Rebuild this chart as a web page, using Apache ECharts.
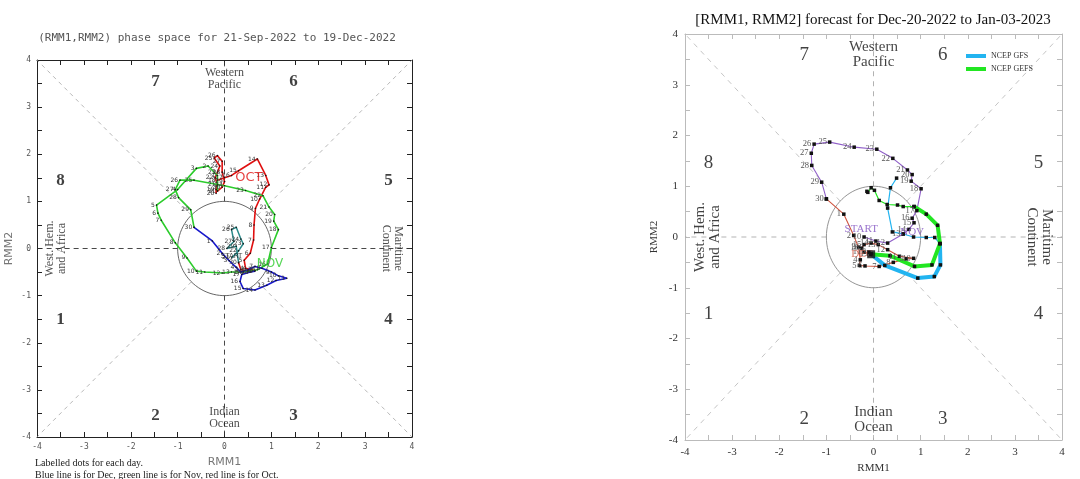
<!DOCTYPE html>
<html>
<head>
<meta charset="utf-8">
<script src="https://cdn.jsdelivr.net/npm/echarts@6/dist/echarts.min.js"></script>
<style>
html, body { margin: 0; padding: 0; background: #fff; }
#main { width: 1080px; height: 479px; }
</style>
</head>
<body>
<div id="main"></div>
<script>
// left panel: observed [RMM1, RMM2] per day
var leftSepStart = 21;
var leftSep = [[0.15,-0.2],[0.3,-0.05],[0.4,0.1],[0.35,0.2],[0.25,0.45],[0.15,0.4],[0.2,0.15],[0.05,0.0],[0.25,0.05],[0.3,-0.3]];
var leftOct = [[0.35,-0.45],[0.5,-0.48],[0.65,-0.47],[0.45,-0.42],[0.42,-0.25],[0.55,-0.1],[0.62,0.18],[0.63,0.5],[0.66,0.85],[0.75,1.05],
  [0.88,1.3],[0.95,1.35],[0.88,1.55],[0.7,1.9],[0.3,1.65],[0.15,1.55],[0.0,1.5],[-0.15,1.45],[-0.18,1.25],[-0.18,1.17],
  [-0.15,1.35],[-0.2,1.5],[-0.15,1.62],[-0.1,1.75],[-0.22,1.92],[-0.15,1.97],[-0.05,1.85],[-0.05,1.62],[0.0,1.42],[-0.05,1.3],[-0.15,1.22]];
var leftNov = [[-0.15,1.55],[-0.35,1.75],[-0.6,1.7],[-1.0,1.25],[-1.45,0.92],[-1.42,0.75],[-1.35,0.6],[-1.05,0.12],[-0.8,-0.2],[-0.6,-0.48],
  [-0.42,-0.5],[-0.05,-0.52],[0.15,-0.5],[0.4,-0.5],[0.7,-0.45],[0.92,-0.33],[1.0,0.02],[1.15,0.4],[1.05,0.58],[1.07,0.72],
  [0.95,0.88],[0.82,1.12],[0.45,1.23],[0.0,1.33],[-0.65,1.45],[-0.95,1.45],[-1.05,1.25],[-0.98,1.08],[-0.72,0.82],[-0.65,0.45]];
var leftDec = [[-0.26,0.16],[-0.05,-0.1],[0.1,-0.26],[0.25,-0.4],[0.35,-0.5],[0.5,-0.45],[0.65,-0.38],[0.8,-0.42],[1.0,-0.5],[1.15,-0.58],
  [1.33,-0.63],[1.1,-0.68],[0.9,-0.78],[0.65,-0.88],[0.4,-0.85],[0.33,-0.7],[0.37,-0.55],[0.55,-0.5],[0.65,-0.48]];

// right panel: last 40 observed days, then two 15-day forecasts
var rightNovStart = 10;
var rightNov = [[-0.2,0.0],[0.05,-0.08],[0.3,-0.12],[0.63,0.06],[0.75,0.15],[0.86,0.28],[0.82,0.37],[0.92,0.52],[1.01,0.95],[0.8,1.1],
  [0.82,1.23],[0.72,1.32],[0.41,1.55],[0.07,1.73],[-0.41,1.77],[-0.93,1.87],[-1.26,1.83],[-1.32,1.65],[-1.31,1.41],[-1.1,1.08],[-1.0,0.75]];
var rightDec = [[-0.63,0.45],[-0.42,0.03],[-0.32,-0.2],[-0.28,-0.45],[-0.3,-0.56],[-0.18,-0.57],[0.12,-0.58],[0.42,-0.5],[0.7,-0.43],[0.85,-0.42],
  [0.55,-0.38],[0.3,-0.25],[0.1,-0.15],[-0.05,-0.12],[-0.2,-0.15],[-0.25,-0.22],[-0.2,-0.3],[-0.1,-0.3],[-0.05,-0.34]];
var gfs = [[0.24,-0.56],[0.94,-0.81],[1.29,-0.78],[1.42,-0.55],[1.41,-0.13],[1.3,-0.01],[1.12,-0.01],[0.85,0.0],[0.63,0.06],[0.4,0.1],
  [0.3,0.57],[0.36,0.97],[0.49,1.16]];
var gefs = [[0.35,-0.37],[0.87,-0.58],[1.24,-0.55],[1.41,-0.13],[1.36,0.23],[1.12,0.45],[0.86,0.6],[0.63,0.6],[0.51,0.63],[0.29,0.64],
  [0.12,0.72],[0.02,0.92],[-0.05,0.97],[-0.12,0.88],[-0.14,0.9]];
var gfsThick = 5, gefsThick = 7;

var phaseLabels = [[-1.47,3.55,'7'],[1.47,3.55,'6'],[-3.5,1.45,'8'],[3.5,1.45,'5'],[-3.5,-1.5,'1'],[3.5,-1.5,'4'],[-1.47,-3.55,'2'],[1.47,-3.55,'3']];
var tickValues = ['-4','-3','-2','-1','0','1','2','3','4'];

var chart = echarts.init(document.getElementById('main'));

// axis index per panel: left uses xAxis/yAxis 0, right uses 2
var L = 0, R = 2;

function track(pts, firstDay, prev, color, width, ai, lab, sym) {
  var data = [];
  if (prev) data.push({ value: prev, day: '' });
  pts.forEach(function (p, i) { data.push({ value: p, day: firstDay ? String(firstDay + i) : '' }); });
  return {
    type: 'line', xAxisIndex: ai, yAxisIndex: ai, data: data, silent: true,
    symbol: sym.symbol, symbolSize: sym.size, showSymbol: true,
    itemStyle: { color: sym.color },
    lineStyle: { color: color, width: width },
    label: {
      show: !!lab, position: 'left', distance: 1,
      fontSize: lab ? lab.size : 6, fontFamily: lab ? lab.font : 'sans-serif', color: lab ? lab.color : '#000',
      formatter: function (p) { return p.data.day; }
    },
    z: 5
  };
}

function ring(ai, color) {
  var d = [];
  for (var a = 0; a <= 360; a += 4) d.push([Math.cos(a * Math.PI / 180), Math.sin(a * Math.PI / 180)]);
  return { type: 'line', xAxisIndex: ai, yAxisIndex: ai, data: d, showSymbol: false, silent: true,
    lineStyle: { color: color, width: 0.9 }, z: 2 };
}

function spokes(ai, axisColor, diagColor, axisDash, diagDash) {
  var out = [];
  for (var k = 0; k < 8; k++) {
    var a = k * Math.PI / 4, c = Math.round(Math.cos(a) * 1e6) / 1e6, s = Math.round(Math.sin(a) * 1e6) / 1e6;
    var diag = k % 2 === 1;
    var far = diag ? 4 / Math.max(Math.abs(c), Math.abs(s)) : 4;
    out.push({ type: 'line', xAxisIndex: ai, yAxisIndex: ai, showSymbol: false, silent: true,
      data: [[c, s], [c * far, s * far]],
      lineStyle: { color: diag ? diagColor : axisColor, width: diag ? 0.7 : 0.9, type: diag ? diagDash : axisDash }, z: 1 });
  }
  return out;
}

function texts(ai, items, font, size, weight, color, rotate) {
  return { type: 'scatter', xAxisIndex: ai, yAxisIndex: ai, silent: true, symbolSize: 0,
    data: items.map(function (t) { return { value: [t[0], t[1]], txt: t[2] }; }),
    label: { show: true, position: 'inside', fontFamily: font, fontSize: size, fontWeight: weight, color: color,
      rotate: rotate || 0, lineHeight: size * 1.0, align: 'center', verticalAlign: 'middle',
      formatter: function (p) { return p.data.txt; } }, z: 6 };
}

function axis(kind, grid, pos, main, st) {
  var line = { color: st.frame, width: 1 };
  var o = {
    type: 'value', gridIndex: grid, position: pos, min: -4, max: 4, interval: 1,
    axisLine: { show: true, onZero: false, lineStyle: line },
    axisTick: { show: true, inside: true, length: 5, lineStyle: { color: st.frame, width: 1 } },
    minorTick: { show: true, splitNumber: 2, length: 5, lineStyle: { color: st.frame, width: 1 } },
    splitLine: { show: false },
    axisLabel: { show: main, fontFamily: st.font, fontSize: st.size, color: st.color, margin: st.margin,
      formatter: function (v) { return tickValues[Math.round(v) + 4]; } }
  };
  if (main) {
    o.name = kind === 'x' ? 'RMM1' : 'RMM2';
    o.nameLocation = 'middle';
    o.nameGap = kind === 'x' ? st.xGap : st.yGap;
    o.nameTextStyle = { fontFamily: st.nameFont, fontSize: st.nameSize, color: st.nameColor };
  }
  return o;
}

var ls = { frame: '#222', font: 'DejaVu Sans Mono', size: 8, color: '#555', margin: 6, xGap: 20, yGap: 22,
  nameFont: 'DejaVu Sans', nameSize: 11, nameColor: '#777' };
var rs = { frame: '#bbb', font: 'Liberation Serif', size: 11, color: '#333', margin: 7, xGap: 23, yGap: 25,
  nameFont: 'Liberation Serif', nameSize: 11, nameColor: '#333' };

var leftDot = { symbol: 'circle', size: 1.6, color: '#111' };
var rightDot = { symbol: 'rect', size: 3.5, color: '#111' };
var leftLab = { size: 6, font: 'DejaVu Sans', color: '#333' };
var rightLab = { size: 8.5, font: 'Liberation Serif', color: '#555' };

var series = [];
// left panel
series = series.concat(spokes(L, '#333', '#999', [5, 4], [4, 4]));
series.push(ring(L, '#555'));
series.push(track(leftSep, leftSepStart, null, '#2a8a8a', 1.5, L, leftLab, leftDot));
series.push(track(leftOct, 1, leftSep[leftSep.length - 1], '#e01010', 1.6, L, leftLab, leftDot));
series.push(track(leftNov, 1, leftOct[leftOct.length - 1], '#2ccc2c', 1.6, L, leftLab, leftDot));
series.push(track(leftDec, 1, leftNov[leftNov.length - 1], '#1818cc', 1.6, L, leftLab, leftDot));
series.push(texts(L, phaseLabels, 'Liberation Serif', 17, 'bold', '#111'));
series.push(texts(L, [[0, 3.6, 'Western\nPacific'], [0, -3.6, 'Indian\nOcean']], 'Liberation Serif', 12, 'normal', '#222'));
series.push(texts(L, [[-3.6, 0, 'West. Hem.\nand Africa']], 'Liberation Serif', 12, 'normal', '#222', 90));
series.push(texts(L, [[3.58, 0, 'Maritime\nContinent']], 'Liberation Serif', 12, 'normal', '#222', -90));
series.push(texts(L, [[0.15, -0.17, 'START']], 'DejaVu Sans', 7, 'normal', '#111'));
series.push(texts(L, [[0.52, 1.51, 'OCT']], 'DejaVu Sans', 13, 'normal', '#e01010'));
series.push(texts(L, [[0.97, -0.33, 'NOV']], 'DejaVu Sans', 12, 'normal', '#2ccc2c'));

// right panel
series = series.concat(spokes(R, '#aaa', '#aaa', [5, 5], [5, 5]));
series.push(ring(R, '#888'));
series.push(track(rightNov, rightNovStart, null, '#9060c8', 1.1, R, rightLab, rightDot));
series.push(track(rightDec, 1, rightNov[rightNov.length - 1], '#d05540', 1.1, R, rightLab, rightDot));
var fcStart = rightDec[rightDec.length - 1];
var gfsA = track(gfs.slice(0, gfsThick), 0, fcStart, '#22b4f0', 4, R, null, rightDot); gfsA.name = 'NCEP GFS';
var gfsB = track(gfs.slice(gfsThick), 0, gfs[gfsThick - 1], '#22b4f0', 1.2, R, null, rightDot); gfsB.name = 'NCEP GFS';
var gefsA = track(gefs.slice(0, gefsThick), 0, fcStart, '#22e622', 4, R, null, rightDot); gefsA.name = 'NCEP GEFS';
var gefsB = track(gefs.slice(gefsThick), 0, gefs[gefsThick - 1], '#22e622', 1.2, R, null, rightDot); gefsB.name = 'NCEP GEFS';
series.push(gfsA, gfsB, gefsA, gefsB);
series.push({ type: 'scatter', xAxisIndex: R, yAxisIndex: R, data: [fcStart], symbol: 'rect', symbolSize: 8,
  itemStyle: { color: '#111' }, silent: true, z: 7 });
series.push(texts(R, phaseLabels.map(function (p) { return [p[0], p[1] * 1.01, p[2]]; }), 'Liberation Serif', 19, 'normal', '#111'));
series.push(texts(R, [[0, 3.6, 'Western\nPacific'], [0, -3.6, 'Indian\nOcean']], 'Liberation Serif', 15, 'normal', '#111'));
series.push(texts(R, [[-3.52, 0, 'West. Hem.\nand Africa']], 'Liberation Serif', 15, 'normal', '#111', 90));
series.push(texts(R, [[3.52, 0, 'Maritime\nContinent']], 'Liberation Serif', 15, 'normal', '#111', -90));
series.push(texts(R, [[-0.26, 0.15, 'START'], [0.82, 0.1, 'NOV']], 'Liberation Serif', 11, 'normal', '#8050c0'));
series.push(texts(R, [[-0.24, -0.33, 'DEC']], 'Liberation Serif', 11, 'normal', '#d05540'));

chart.setOption({
  animation: false,
  backgroundColor: '#fff',
  grid: [
    { left: 37, top: 60, width: 375, height: 377 },
    { left: 685, top: 34, width: 377, height: 409 }
  ],
  xAxis: [axis('x', 0, 'bottom', true, ls), axis('x', 0, 'top', false, ls),
          axis('x', 1, 'bottom', true, rs), axis('x', 1, 'top', false, rs)],
  yAxis: [axis('y', 0, 'left', true, ls), axis('y', 0, 'right', false, ls),
          axis('y', 1, 'left', true, rs), axis('y', 1, 'right', false, rs)],
  legend: {
    orient: 'vertical', left: 966, top: 52, itemWidth: 20, itemHeight: 4, itemGap: 5, padding: 0,
    textStyle: { fontFamily: 'Liberation Serif', fontSize: 8, color: '#333' },
    data: [
      { name: 'NCEP GFS', icon: 'rect', itemStyle: { color: '#22b4f0' } },
      { name: 'NCEP GEFS', icon: 'rect', itemStyle: { color: '#22e622' } }
    ],
    selectedMode: false
  },
  graphic: [
    { type: 'text', x: 217, y: 38, style: { text: '(RMM1,RMM2) phase space for 21-Sep-2022 to 19-Dec-2022',
      font: '11px "DejaVu Sans Mono"', fill: '#555', align: 'center', verticalAlign: 'middle' } },
    { type: 'text', x: 873, y: 20, style: { text: '[RMM1, RMM2] forecast for Dec-20-2022 to Jan-03-2023',
      font: '15px "Liberation Serif"', fill: '#111', align: 'center', verticalAlign: 'middle' } },
    { type: 'text', x: 35, y: 463, style: { text: 'Labelled dots for each day.',
      font: '10px "Liberation Serif"', fill: '#222', align: 'left', verticalAlign: 'middle' } },
    { type: 'text', x: 35, y: 475, style: { text: 'Blue line is for Dec, green line is for Nov, red line is for Oct.',
      font: '10px "Liberation Serif"', fill: '#222', align: 'left', verticalAlign: 'middle' } }
  ],
  series: series
});
</script>
</body>
</html>
